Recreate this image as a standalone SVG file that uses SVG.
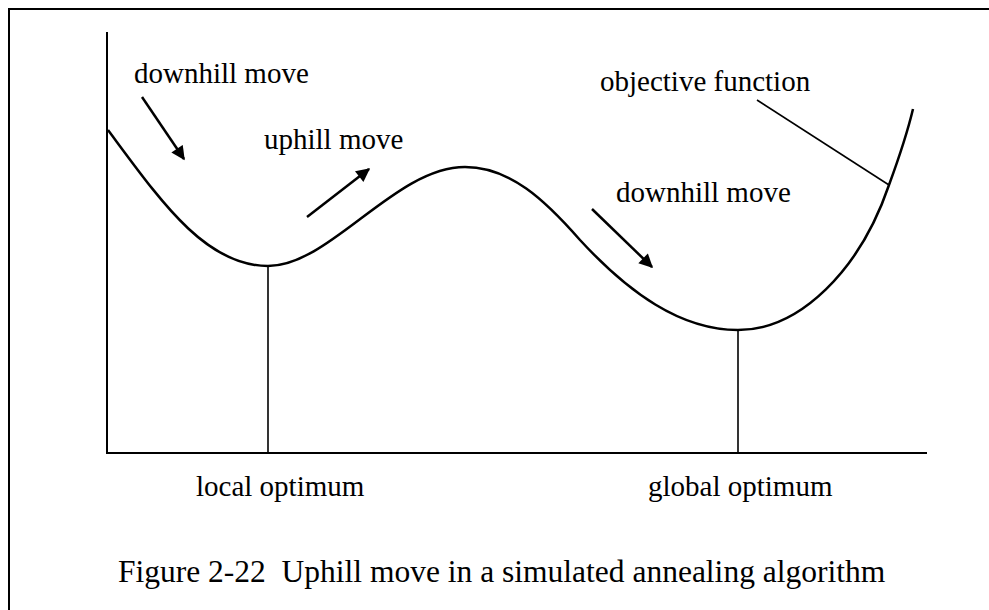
<svg xmlns="http://www.w3.org/2000/svg" width="989" height="610" viewBox="0 0 989 610">
<style>
  .t { font-family: "Liberation Serif", "Times New Roman", serif; font-size: 29px; fill: #000; }
  .cap { font-family: "Liberation Serif", "Times New Roman", serif; font-size: 31.5px; fill: #000; white-space: pre; }
  .ln { stroke: #000; fill: none; }
</style>
<defs>
  <marker id="ah" viewBox="0 0 10 10" refX="9" refY="5" markerWidth="6" markerHeight="5.5" markerUnits="strokeWidth" orient="auto">
    <path d="M0,0 L10,5 L0,10 Z" fill="#000"/>
  </marker>
</defs>
<rect width="989" height="610" fill="#fff"/>
<g id="frame">
  <line class="ln" x1="8" y1="9" x2="989" y2="9" stroke-width="2"/>
  <line class="ln" x1="9" y1="9" x2="9" y2="610" stroke-width="2"/>
</g>
<g id="axes">
  <line class="ln" x1="107" y1="32" x2="107" y2="453" stroke-width="2"/>
  <line class="ln" x1="106" y1="453" x2="927" y2="453" stroke-width="2"/>
</g>
<g id="curve">
  <path class="ln" stroke-width="2.5" d="M108,130 C160,200 205,266 268,266 C330,266 395,167 465,167 C510,167 545,200 580,240 C628,292 680,330 738,330 C800,330 860,270 889,185 C900,155 908,130 913,109"/>
</g>
<g id="local-optimum">
  <line class="ln" x1="268" y1="266" x2="268" y2="453" stroke-width="1.6"/>
  <text class="t" x="196" y="496">local optimum</text>
</g>
<g id="global-optimum">
  <line class="ln" x1="738" y1="330" x2="738" y2="453" stroke-width="1.6"/>
  <text class="t" x="648" y="496">global optimum</text>
</g>
<g id="objective-function">
  <text class="t" x="600" y="91">objective function</text>
</g>
<g id="labels">
  <text class="t" x="134" y="83">downhill move</text>
  <text class="t" x="264" y="149">uphill move</text>
  <text class="t" x="616" y="202">downhill move</text>
</g>
<g id="connectors">
  <line class="ln" x1="757" y1="100" x2="889" y2="185" stroke-width="1.6"/>
  <line class="ln" x1="142" y1="97" x2="184" y2="159" stroke-width="2.5" marker-end="url(#ah)"/>
  <line class="ln" x1="307" y1="217" x2="369" y2="169" stroke-width="2.5" marker-end="url(#ah)"/>
  <line class="ln" x1="592" y1="209" x2="652" y2="267" stroke-width="2.5" marker-end="url(#ah)"/>
</g>
<g id="caption">
  <text class="cap" x="118" y="582" xml:space="preserve">Figure 2-22  Uphill move in a simulated annealing algorithm</text>
</g>
</svg>
